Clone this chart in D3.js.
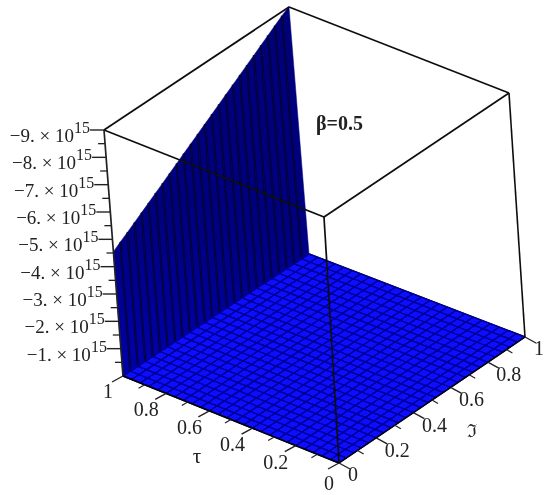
<!DOCTYPE html>
<html>
<head>
<meta charset="utf-8">
<script src="https://cdn.jsdelivr.net/npm/d3@7"></script>
<style>
  html, body { margin: 0; padding: 0; background: #fff; }
  text { font-family: "Liberation Serif", serif; fill: #222; }
</style>
</head>
<body>
<div id="chart"></div>
<script>
var width = 550;
var height = 495;

// values
var tauTicks = [0, 0.2, 0.4, 0.6, 0.8, 1];
var tauLabels = ["0", "0.2", "0.4", "0.6", "0.8", "1"];
var sTicks = [0, 0.2, 0.4, 0.6, 0.8, 1];
var sLabels = ["0", "0.2", "0.4", "0.6", "0.8", "1"];
var zTicks = [-9, -8, -7, -6, -5, -4, -3, -2, -1];
var zMinor = [-8.5, -7.5, -6.5, -5.5, -4.5, -3.5, -2.5, -1.5, -0.5];
var minorTicks = [0.1, 0.3, 0.5, 0.7, 0.9];
var gridSteps = [0, 0.04, 0.08, 0.12, 0.16, 0.2, 0.24, 0.28, 0.32, 0.36, 0.4, 0.44, 0.48,
  0.52, 0.56, 0.6, 0.64, 0.68, 0.72, 0.76, 0.8, 0.84, 0.88, 0.92, 0.96, 1];
// wall height along tau = 1, in units of 10^15
var wallValues = [-4.55, -4.73, -4.9, -5.08, -5.26, -5.44, -5.62, -5.8, -5.98, -6.16, -6.34, -6.52, -6.7,
  -6.88, -7.06, -7.24, -7.42, -7.6, -7.78, -7.96, -8.14, -8.32, -8.5, -8.68, -8.86, -9.02];

var svg = d3.select("#chart").append("svg").attr("width", width).attr("height", height);

// unit scales, the perspective box is done by corners below
var xS = d3.scaleLinear().domain([0, 1]).range([0, 1]);
var xT = d3.scaleLinear().domain([0, 1]).range([0, 1]);
var xZ = d3.scaleLinear().domain([0, -9]).range([0, 1]);

// screen corners of the box: b = floor, t = top, index [tau][s]
var b = [[[339, 463], [525, 337]], [[123, 376], [309, 254]]];
var t = [[[324, 217], [509, 93]], [[104, 130], [289, 7]]];

function mix(p, q, k) { return [p[0] + (q[0] - p[0]) * k, p[1] + (q[1] - p[1]) * k]; }

function project(tau, s, z) {
  var u = xT(tau), v = xS(s), w = xZ(z);
  var floor = mix(mix(b[0][0], b[0][1], v), mix(b[1][0], b[1][1], v), u);
  var top = mix(mix(t[0][0], t[0][1], v), mix(t[1][0], t[1][1], v), u);
  return mix(floor, top, w);
}

function seg(g, p, q, color, w) {
  return g.append("line")
    .attr("x1", p[0]).attr("y1", p[1]).attr("x2", q[0]).attr("y2", q[1])
    .attr("stroke", color).attr("stroke-width", w);
}
var defs = svg.append("defs");
defs.append("filter").attr("id", "soft").append("feGaussianBlur").attr("stdDeviation", 0.6);
defs.append("filter").attr("id", "softText").append("feGaussianBlur").attr("stdDeviation", 0.35);

// wall gets brighter towards the floor
var grad = defs.append("linearGradient").attr("id", "wallFill")
  .attr("gradientUnits", "userSpaceOnUse")
  .attr("x1", 0).attr("y1", 10).attr("x2", 0).attr("y2", 370);
grad.append("stop").attr("offset", "0%").attr("stop-color", "#000078");
grad.append("stop").attr("offset", "60%").attr("stop-color", "#000080");
grad.append("stop").attr("offset", "100%").attr("stop-color", "#0000aa");

// back edges of the box first
var box = svg.append("g").attr("filter", "url(#soft)");
seg(box, project(1, 1, 0), project(0, 1, 0), "#000", 1.6);
seg(box, project(0, 1, 0), project(0, 1, -9), "#111", 1.6);

// wall at tau = 1
var surf = svg.append("g").attr("filter", "url(#soft)");
gridSteps.slice(0, -1).forEach(function(s, i) {
  var s2 = gridSteps[i + 1];
  var pts = [project(1, s, 0), project(1, s2, 0), project(1, s2, wallValues[i + 1]), project(1, s, wallValues[i])];
  surf.append("polygon")
    .attr("points", pts.join(" "))
    .attr("fill", "url(#wallFill)")
    .attr("stroke", "url(#wallFill)").attr("stroke-width", 0.5);
  if (i > 0) {
    seg(surf, project(1, s, 0), project(1, s, wallValues[i]), "#000030", 2.4).attr("stroke-opacity", 0.75);
  }
});

// floor
var floorPts = [project(0, 0, 0), project(0, 1, 0), project(1, 1, 0), project(1, 0, 0)];
surf.append("polygon").attr("points", floorPts.join(" ")).attr("fill", "#0c0cff");
gridSteps.forEach(function(k) {
  seg(surf, project(k, 0, 0), project(k, 1, 0), "#000090", 1.5);
  seg(surf, project(0, k, 0), project(1, k, 0), "#000090", 1.5);
});

// front edges of the box
var front = svg.append("g").attr("filter", "url(#soft)");
seg(front, project(1, 0, -9), project(1, 1, -9), "#111", 1.7);
seg(front, project(1, 1, -9), project(0, 1, -9), "#111", 1.7);
seg(front, project(0, 1, -9), project(0, 0, -9), "#111", 1.7);
seg(front, project(0, 0, -9), project(1, 0, -9), "#111", 1.7);
seg(front, project(0, 0, -9), project(0, 0, 0), "#111", 1.7);
seg(front, project(1, 0, 0), project(1, 0, -9), "#222", 1.7);
seg(front, project(0, 0, 0), project(1, 0, 0), "#000", 1.4);
seg(front, project(0, 0, 0), project(0, 1, 0), "#000", 1.4);

// axis ticks
var labels = svg.append("g").attr("filter", "url(#softText)");
zTicks.forEach(function(z) {
  var p = project(1, 0, z);
  seg(front, p, [p[0] - 14, p[1]], "#222", 1.4);
  var label = labels.append("text").attr("x", p[0] - 14).attr("y", p[1] + 12)
    .attr("text-anchor", "end").style("font-size", "19px");
  label.append("tspan").text("\u2212" + Math.abs(z) + ". \u00d7 10");
  label.append("tspan").attr("dy", -9).style("font-size", "16px").text("15");
});
zMinor.forEach(function(z) {
  var p = project(1, 0, z);
  seg(front, p, [p[0] - 7, p[1]], "#222", 1.3);
});
tauTicks.forEach(function(k, i) {
  var p = project(k, 0, 0);
  var end = k == 0 || k == 1;
  seg(front, p, [p[0] - 11, p[1] + 6], "#222", 1.4);
  labels.append("text")
    .attr("x", p[0] + (k == 0 ? -10 : k == 1 ? -15 : -20))
    .attr("y", p[1] + (k == 0 ? 27 : end ? 22 : 23))
    .attr("text-anchor", "middle").style("font-size", "20px").text(tauLabels[i]);
});
sTicks.forEach(function(k, i) {
  var p = project(0, k, 0);
  var end = k == 0 || k == 1;
  seg(front, p, [p[0] + 11, p[1] + 6], "#222", 1.4);
  labels.append("text")
    .attr("x", p[0] + (end ? 14 : 21))
    .attr("y", p[1] + (end ? 18 : 19))
    .attr("text-anchor", "middle").style("font-size", "20px").text(sLabels[i]);
});
minorTicks.forEach(function(k) {
  var p = project(k, 0, 0), q = project(0, k, 0);
  seg(front, p, [p[0] - 6, p[1] + 3.5], "#222", 1.2);
  seg(front, q, [q[0] + 6, q[1] + 3.5], "#222", 1.2);
});

// axis titles and annotation
labels.append("text").attr("x", 197).attr("y", 463).attr("text-anchor", "middle")
  .style("font-size", "21px").text("\u03c4");
labels.append("text").attr("x", 472).attr("y", 437).attr("text-anchor", "middle")
  .style("font-family", "DejaVu Serif").style("font-size", "18px").text("\u2111");
labels.append("text").attr("x", 316).attr("y", 130)
  .style("font-size", "20px").style("font-weight", "bold").text("\u03b2=0.5");
</script>
</body>
</html>
